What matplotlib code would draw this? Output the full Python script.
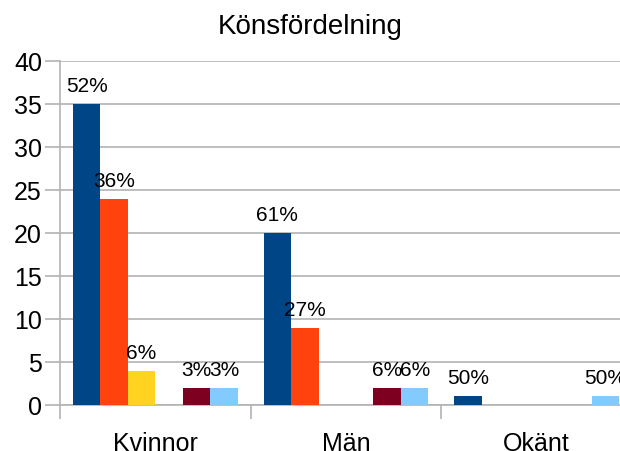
import numpy as np
import matplotlib.pyplot as plt

plt.rcParams['font.family'] = ['Liberation Sans', 'DejaVu Sans']

categories = ['Kvinnor', 'Män', 'Okänt']
# six answer groups per category, counts
serie_1 = [35, 20, 1]
serie_2 = [24, 9, 0]
serie_3 = [4, 0, 0]
serie_4 = [0, 0, 0]
serie_5 = [2, 2, 0]
serie_6 = [2, 2, 1]
series = [serie_1, serie_2, serie_3, serie_4, serie_5, serie_6]
colors = ['#004586', '#ff420e', '#ffd320', '#579d1c', '#7e0021', '#83caff']

fig = plt.figure(figsize=(6.2, 4.52), dpi=100)
ax = fig.add_axes([60 / 620, 46 / 452, 572 / 620, 344 / 452])

x = np.arange(len(categories))
n = len(series)
group = 0.865
w = group / n
totals = np.sum(series, axis=0)

for i, (vals, c) in enumerate(zip(series, colors)):
    pos = x - group / 2 + w * (i + 0.5)
    ax.bar(pos, vals, width=w, color=c, zorder=3)
    for p, v, t in zip(pos, vals, totals):
        if v > 0:
            ax.annotate('%d%%' % round(100 * v / t), (p, v), xytext=(0, 9.4),
                        textcoords='offset points', ha='center', va='baseline',
                        fontsize=15, zorder=4)

ax.set_xlim(-0.5, 2.5)
ax.set_ylim(0, 40)
ax.set_yticks(range(0, 41, 5))
ax.yaxis.grid(True, color='#b3b3b3', linewidth=1.2, zorder=0)
ax.set_xticks(x)
ax.set_xticklabels(categories)
ax.set_xticks(np.arange(-0.5, 3, 1), minor=True)
ax.tick_params(axis='x', which='major', length=0, pad=18.5, labelsize=18)
ax.tick_params(axis='x', which='minor', length=10, color='#b3b3b3', width=1.2)
ax.tick_params(axis='y', length=11, color='#b3b3b3', width=1.2, labelsize=18, pad=2)
for side in ['top', 'right']:
    ax.spines[side].set_visible(False)
for side in ['left', 'bottom']:
    ax.spines[side].set_color('#b3b3b3')
    ax.spines[side].set_linewidth(1.2)

fig.text(0.5, 1 - 27 / 452, 'Könsfördelning', ha='center', va='center', fontsize=20)

fig.savefig('out.png', dpi=100)
